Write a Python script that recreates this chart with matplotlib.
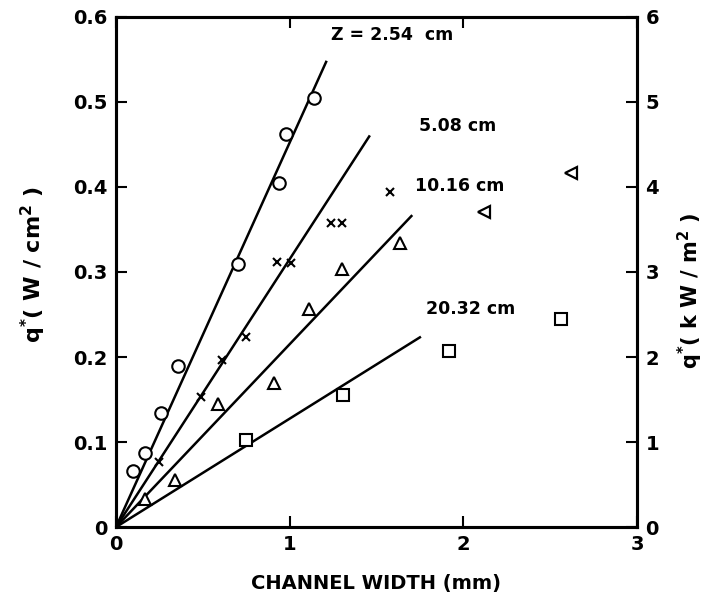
import matplotlib
matplotlib.use("Agg")
import matplotlib.pyplot as plt
import numpy as np

plt.rcParams['font.family'] = ['DejaVu Sans']

# Data
circ_x = [0.10, 0.17, 0.26, 0.36, 0.70, 0.94, 0.98, 1.14]
circ_y = [0.066, 0.087, 0.134, 0.189, 0.309, 0.405, 0.462, 0.504]
cross_x = [0.25, 0.49, 0.61, 0.75, 0.93, 1.01, 1.24, 1.30, 1.58]
cross_y = [0.076, 0.153, 0.196, 0.224, 0.312, 0.311, 0.357, 0.358, 0.394]
tri_x = [0.17, 0.34, 0.59, 0.91, 1.11, 1.30, 1.635]
tri_y = [0.033, 0.055, 0.145, 0.169, 0.256, 0.303, 0.334]
ltri_x = [2.12, 2.62]
ltri_y = [0.371, 0.416]
sq_x = [0.75, 1.31, 1.92, 2.56]
sq_y = [0.102, 0.155, 0.207, 0.245]

# fitted lines (start at origin): end x and slope
line_end_x = [1.213, 1.462, 1.706, 1.756]
line_slope = [0.452, 0.315, 0.215, 0.1275]
line_labels = ["Z = 2.54  cm", "5.08 cm", "10.16 cm", "20.32 cm"]
label_pos = [(1.59, 0.578), (1.965, 0.472), (1.98, 0.401), (2.04, 0.257)]

x_ticks = [0, 1, 2, 3]
y_ticks = [0, 0.1, 0.2, 0.3, 0.4, 0.5, 0.6]
y_ticklabels = ["0", "0.1", "0.2", "0.3", "0.4", "0.5", "0.6"]
y2_ticks = [0, 1, 2, 3, 4, 5, 6]

fig = plt.figure(figsize=(7.07, 5.99), dpi=100)
ax = fig.add_axes([0.164, 0.120, 0.737, 0.852])

for ex, s in zip(line_end_x, line_slope):
    xs = np.array([0, ex])
    ax.plot(xs, s * xs, color='black', lw=1.8, solid_capstyle='butt')

ax.plot(circ_x, circ_y, 'o', ms=9, mfc='white', mec='black', mew=1.5, ls='none')
ax.plot(cross_x, cross_y, 'x', ms=6, mec='black', mew=1.5, ls='none')
ax.plot(tri_x, tri_y, '^', ms=9, mfc='white', mec='black', mew=1.5, ls='none')
ax.plot(ltri_x, ltri_y, '<', ms=8, mfc='white', mec='black', mew=1.6, ls='none')
ax.plot(sq_x, sq_y, 's', ms=8, mfc='white', mec='black', mew=1.5, ls='none')

for (lx, ly), t in zip(label_pos, line_labels):
    ax.text(lx, ly, t, ha='center', va='center', fontsize=12.5, fontweight='bold')

ax.set_xlim(0, 3)
ax.set_ylim(0, 0.6)
ax.set_xticks(x_ticks)
ax.set_xticklabels([str(v) for v in x_ticks])
ax.set_yticks(y_ticks)
ax.set_yticklabels(y_ticklabels)
ax.tick_params(axis='both', direction='in', length=8, width=1.5, labelsize=14, top=True, pad=6)
for lab in ax.get_xticklabels() + ax.get_yticklabels():
    lab.set_fontweight('bold')
for sp in ax.spines.values():
    sp.set_linewidth(2.2)

ax.set_xlabel("CHANNEL WIDTH (mm)", fontsize=14, fontweight='bold', labelpad=14)
ax.set_ylabel(r"q$^{\mathbf{*}}$( W / cm$^{\mathbf{2}}$ )", fontsize=16, fontweight='bold')
ax.yaxis.set_label_coords(-0.130, 0.514)

ax2 = ax.twinx()
ax2.set_ylim(0, 6)
ax2.set_yticks(y2_ticks)
ax2.set_yticklabels([str(v) for v in y2_ticks])
ax2.tick_params(axis='y', direction='in', length=8, width=1.5, labelsize=14, pad=6)
for lab in ax2.get_yticklabels():
    lab.set_fontweight('bold')
for sp in ax2.spines.values():
    sp.set_linewidth(2.2)
ax2.set_ylabel(r"q$^{\mathbf{*}}$( k W / m$^{\mathbf{2}}$ )", fontsize=15, fontweight='bold')
ax2.yaxis.set_label_coords(1.074, 0.463)

fig.savefig("out.png", dpi=100)
